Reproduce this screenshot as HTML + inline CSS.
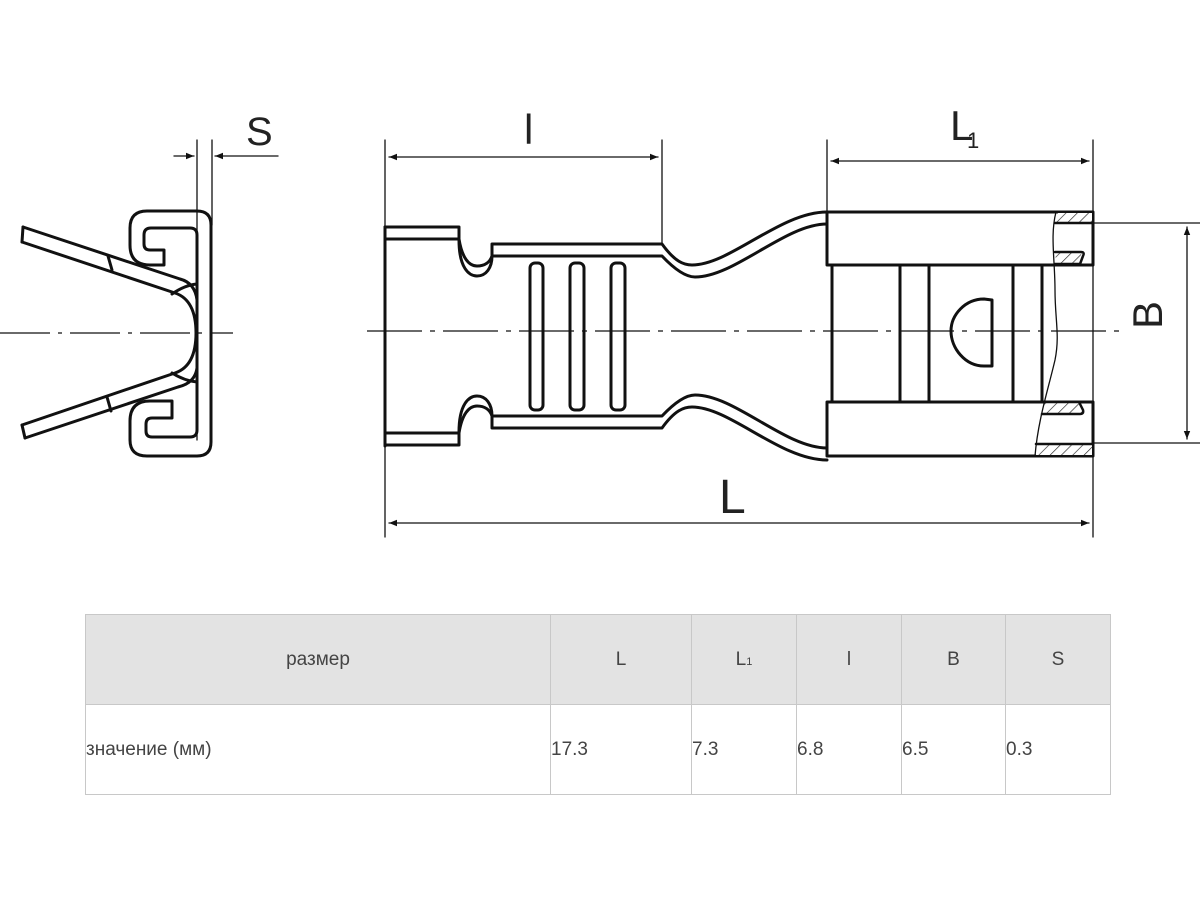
<!DOCTYPE html>
<html><head><meta charset="utf-8"><style>
html,body{margin:0;padding:0;background:#fff;width:1200px;height:900px;overflow:hidden}
svg{position:absolute;left:0;top:0}
table{position:absolute;left:85px;top:614px;border-collapse:collapse;font-family:"Liberation Sans",sans-serif;font-size:19px;color:#444}
td{border:1px solid #c8c8c8;padding:0;height:89px}
tr.h td{background:#e3e3e3;text-align:center}
tr.v td{text-align:left}
</style></head><body>
<svg width="1200" height="900" viewBox="0 0 1200 900" xmlns="http://www.w3.org/2000/svg">
<defs>
<marker id="a" viewBox="0 0 10 10" refX="10" refY="5" markerWidth="10" markerHeight="8" orient="auto-start-reverse" markerUnits="userSpaceOnUse"><path d="M0,1 L10,5 L0,9 Z" fill="#111"/></marker>
<pattern id="h" width="8" height="8" patternUnits="userSpaceOnUse" patternTransform="rotate(45)"><rect width="8" height="8" fill="#fff"/><line x1="0" y1="0" x2="0" y2="8" stroke="#222" stroke-width="1.3"/></pattern>
</defs>
<g fill="none" stroke="#111" stroke-linecap="round" stroke-linejoin="round">
<!-- LEFT VIEW -->
<line x1="0" y1="333" x2="233" y2="333" stroke-width="1.3" stroke-dasharray="50,8,4,8" stroke-linecap="butt"/>
<line x1="197" y1="140" x2="197" y2="440" stroke-width="1.3"/>
<line x1="212" y1="140" x2="212" y2="225" stroke-width="1.3"/>
<line x1="174" y1="156" x2="194" y2="156" stroke-width="1.3" marker-end="url(#a)"/>
<line x1="278" y1="156" x2="215" y2="156" stroke-width="1.3" marker-end="url(#a)"/>
<g stroke-width="3">
<path d="M164,265 L150,265 Q130,265 130,245 L130,228 Q130,211 147,211 L197,211 Q211,211 211,225 L211,442 Q211,456 197,456 L147,456 Q130,456 130,440 L130,421 Q130,401 150,401 L172,401 L172,418 L152,418 Q146,418 146,424 L146,431 Q146,437 152,437 L190,437 Q197,437 197,430 L197,235 Q197,228 190,228 L151,228 Q144,228 144,235 L144,244 Q144,250 150,250 L164,250 Z"/>
<path d="M23,227 L180,279 Q195,283 197,300"/>
<path d="M22,242 L175,293 Q196,300 196,333 Q196,366 175,373 L22,425"/>
<path d="M25,438 L178,387 Q195,383 197,368"/>
<path d="M23,227 L22,242 M22,425 L25,438"/>
<path d="M108,256 L112,270 M107,397 L111,411"/>
<path d="M172,294 Q185,285 197,284 M172,373 Q185,381 197,382"/>
</g>
<!-- MAIN VIEW -->
<line x1="367" y1="331" x2="1120" y2="331" stroke-width="1.3" stroke-dasharray="55,8,5,8" stroke-linecap="butt"/>
<line x1="385" y1="140" x2="385" y2="537" stroke-width="1.3"/>
<line x1="662" y1="140" x2="662" y2="244" stroke-width="1.3"/>
<line x1="827" y1="140" x2="827" y2="212" stroke-width="1.3"/>
<line x1="1093" y1="140" x2="1093" y2="537" stroke-width="1.3"/>
<line x1="389" y1="157" x2="658" y2="157" stroke-width="1.3" marker-start="url(#a)" marker-end="url(#a)"/>
<line x1="831" y1="161" x2="1089" y2="161" stroke-width="1.3" marker-start="url(#a)" marker-end="url(#a)"/>
<line x1="389" y1="523" x2="1089" y2="523" stroke-width="1.3" marker-start="url(#a)" marker-end="url(#a)"/>
<line x1="1093" y1="223" x2="1200" y2="223" stroke-width="1.3"/>
<line x1="1093" y1="443" x2="1200" y2="443" stroke-width="1.3"/>
<line x1="1187" y1="227" x2="1187" y2="439" stroke-width="1.3" marker-start="url(#a)" marker-end="url(#a)"/>
<g stroke-width="3">
<g id="half">
<path d="M385,227 L459,227 L459,240 C459,268 469,276 477,276 C486,276 492,268 492,256 L492,244 L662,244 C675,262 684,265 692,265 C730,265 780,212 827,212"/>
<path d="M385,239 L459,239 C462,258 469,266 477,266 C485,266 490,262 492,256 L662,256 C679,274 689,277 695,277 C735,277 785,224 827,224"/>
</g>
<use href="#half" transform="translate(0,672) scale(1,-1)"/>
<line x1="385" y1="227" x2="385" y2="446"/>
<rect x="530" y="263" width="13" height="147" rx="5"/>
<rect x="570" y="263" width="14" height="147" rx="5"/>
<rect x="611" y="263" width="14" height="147" rx="5"/>
<rect x="827" y="212" width="266" height="53"/>
<rect x="827" y="402" width="266" height="54"/>
<path d="M832,265 L832,402 M900,265 L900,402 M929,265 L929,402 M1013,265 L1013,402 M1042,265 L1042,402"/>
<path d="M992,300 L984,299 C965,299 951,315 951,331 C951,348 965,366 984,366 L992,366 Z"/>
</g>
<path d="M1058,213 L1092,213 L1092,223 L1055,223 Z" fill="url(#h)" stroke="none"/>
<path d="M1056,252 L1082,252 L1078,264 L1055,264 Z" fill="url(#h)" stroke="none"/>
<path d="M1044,403 L1079,403 L1083,414 L1042,414 Z" fill="url(#h)" stroke="none"/>
<path d="M1038,445 L1092,445 L1092,455 L1036,455 Z" fill="url(#h)" stroke="none"/>
<g stroke-width="2.5">
<path d="M1055,223 L1093,223 M1055,252 L1081,252 Q1085,252 1083,256 L1080,264 L1055,264 M1042,402 L1079,402 L1083,410 Q1084,414 1080,414 L1042,414 M1036,444 L1093,444"/>
</g>
<path d="M1056,212 C1050,235 1055,260 1055,290 C1055,320 1060,335 1055,360 C1048,390 1038,420 1035,456" stroke-width="1.3"/>
</g>
<g font-family="Liberation Sans, sans-serif" fill="#222">
<text x="246" y="145" font-size="40">S</text>
<text x="524" y="144" font-size="42">l</text>
<text x="950" y="140" font-size="42">L</text>
<text x="967" y="148" font-size="22">1</text>
<text x="719" y="513" font-size="48">L</text>
<text x="1177" y="330" font-size="42" text-anchor="middle" transform="rotate(-90 1162 330)">B</text>
</g>
</svg>
<table>
<tr class="h"><td style="width:464px">размер</td><td style="width:140px">L</td><td style="width:104px">L<span style="font-size:11px">1</span></td><td style="width:104px">l</td><td style="width:103px">B</td><td style="width:104px">S</td></tr>
<tr class="v"><td>значение (мм)</td><td>17.3</td><td>7.3</td><td>6.8</td><td>6.5</td><td>0.3</td></tr>
</table>
</body></html>
